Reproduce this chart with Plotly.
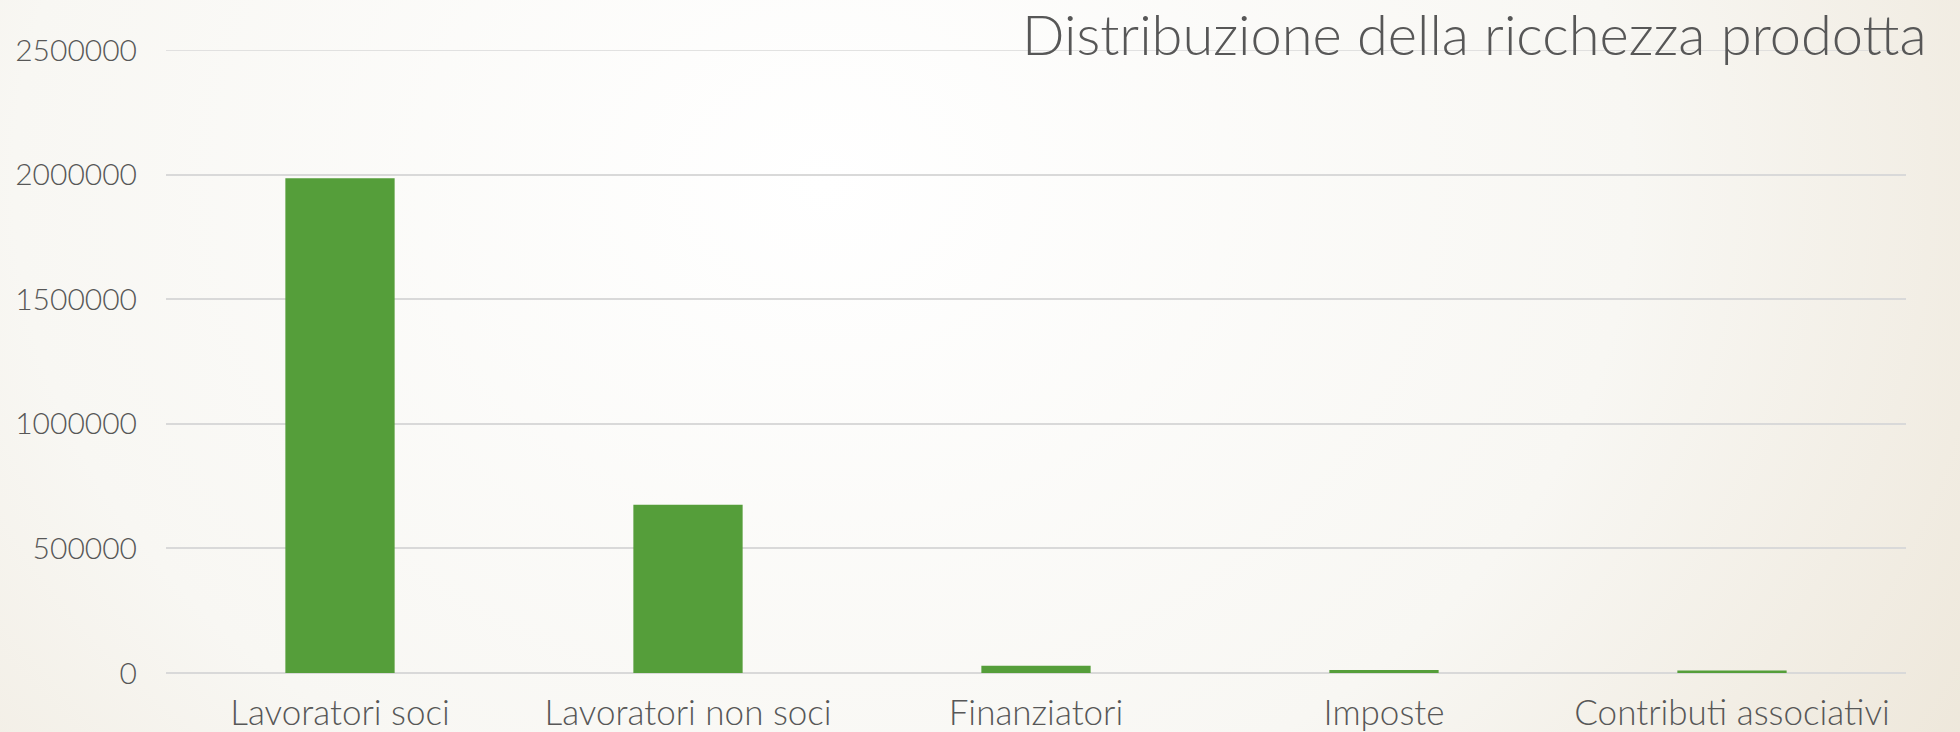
import plotly.graph_objects as go
import urllib.parse

categories = ["Lavoratori soci", "Lavoratori non soci", "Finanziatori", "Imposte", "Contributi associativi"]
values = [1985000, 675000, 29000, 12000, 10000]
y_ticks = [0, 500000, 1000000, 1500000, 2000000, 2500000]

W, H = 1960, 732
L, R, T, B = 166, 54, 50, 59
pw, ph = W - L - R, H - T - B

svg = (
    "<svg xmlns='http://www.w3.org/2000/svg' width='1960' height='732' preserveAspectRatio='none'>"
    "<defs><radialGradient id='g' cx='0.42' cy='0.25' r='0.75' gradientTransform='translate(0.42 0.25) scale(1 2.2) translate(-0.42 -0.25)'>"
    "<stop offset='0' stop-color='#ffffff'/><stop offset='0.55' stop-color='#f8f7f3'/>"
    "<stop offset='1' stop-color='#ebe3d4'/></radialGradient></defs>"
    "<rect width='1960' height='732' fill='url(#g)'/></svg>"
)
src = "data:image/svg+xml;charset=utf-8," + urllib.parse.quote(svg)

font = "Lato, 'Open Sans', sans-serif"
grid = "#d9d9d9"

fig = go.Figure(go.Bar(
    x=categories, y=values,
    marker=dict(color="#559E3A", line=dict(width=0)),
    width=0.314,
))

fig.update_layout(
    width=W, height=H,
    margin=dict(l=L, r=R, t=T, b=B),
    paper_bgcolor="#f8f7f3",
    plot_bgcolor="rgba(0,0,0,0)",
    showlegend=False,
    font=dict(family=font, color="#575757", weight=300),
    images=[dict(source=src, xref="paper", yref="paper",
                 x=-L / pw, y=1 + T / ph, sizex=W / pw, sizey=H / ph,
                 sizing="stretch", layer="below", xanchor="left", yanchor="top")],
    shapes=[dict(type="line", xref="paper", x0=0, x1=1, yref="y", y0=y_ticks[-1], y1=y_ticks[-1],
                 line=dict(color=grid, width=1.5), layer="below")],
    annotations=[dict(text="Distribuzione della ricchezza prodotta", xref="paper", yref="paper",
                      x=(1929 - L) / pw, y=1 + (50 - 34) / ph, xanchor="right", yanchor="middle",
                      showarrow=False, font=dict(family=font, size=56, color="#575757", weight=300))],
)
fig.update_xaxes(showgrid=False, showline=False, ticks="", automargin=False,
                 tickfont=dict(size=35, color="#575757", weight=300), ticklabelstandoff=16)
fig.update_yaxes(range=[0, 2500000], tickvals=y_ticks, ticktext=[str(v) for v in y_ticks],
                 showgrid=True, gridcolor=grid, gridwidth=1.5, zeroline=True, automargin=False,
                 zerolinecolor=grid, zerolinewidth=1.5, showline=False, ticks="",
                 tickfont=dict(size=30, color="#575757", weight=300), ticklabelstandoff=28)

fig.write_html("out.html", config={"displayModeBar": False},
               post_script="document.body.style.margin='0';document.body.style.overflow='hidden';")
